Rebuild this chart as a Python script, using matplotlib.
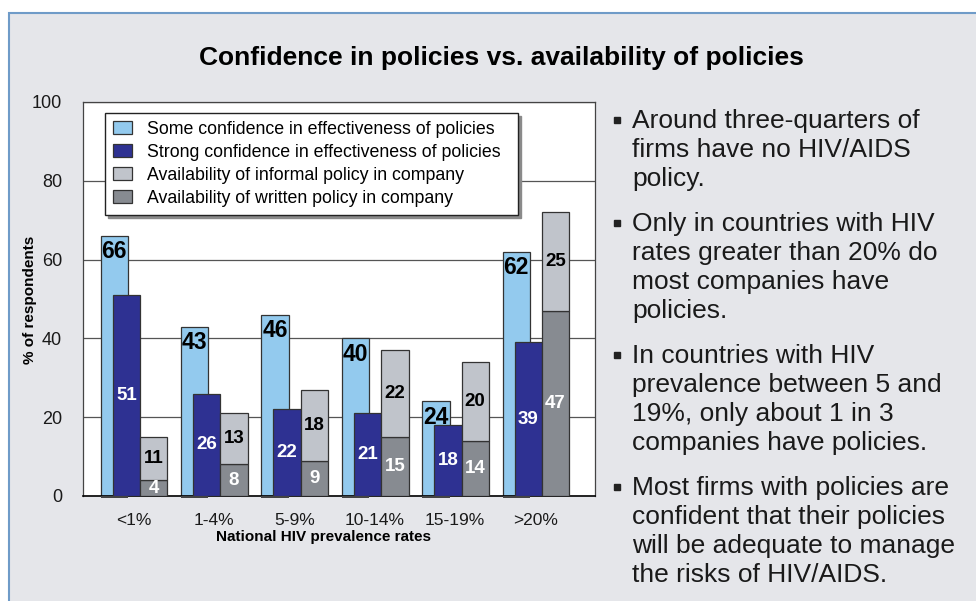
import numpy as np
import matplotlib.pyplot as plt
from matplotlib.patches import Rectangle
from matplotlib.lines import Line2D

plt.rcParams['font.family'] = ['Liberation Sans', 'DejaVu Sans']

# data (% of respondents)
categories = ['<1%', '1-4%', '5-9%', '10-14%', '15-19%', '>20%']
some_conf = [66, 43, 46, 40, 24, 62]
strong_conf = [51, 26, 22, 21, 18, 39]
written_policy = [4, 8, 9, 15, 14, 47]
informal_policy = [11, 13, 18, 22, 20, 25]

legend_labels = ['Some confidence in effectiveness of policies',
                 'Strong confidence in effectiveness of policies',
                 'Availability of informal policy in company',
                 'Availability of written policy in company']

bullets = [
    ['Around three-quarters of', 'firms have no HIV/AIDS', 'policy.'],
    ['Only in countries with HIV', 'rates greater than 20% do',
     'most companies have', 'policies.'],
    ['In countries with HIV', 'prevalence between 5 and',
     '19%, only about 1 in 3', 'companies have policies.'],
    ['Most firms with policies are', 'confident that their policies',
     'will be adequate to manage', 'the risks of HIV/AIDS.'],
]

c_some = '#93caee'
c_strong = '#2e3192'
c_inf = '#c0c4cb'
c_wr = '#878b91'
edge = '#333333'
W, H = 976, 601

fig = plt.figure(figsize=(W / 100, H / 100), dpi=100)
fig.patch.set_facecolor('white')
# grey panel with blue top/left border
fig.patches.append(Rectangle((8.5 / W, -0.1), 1.2, 1.1 - 12.5 / H,
                             transform=fig.transFigure, facecolor='#e5e6ea',
                             edgecolor='#6f9bc8', linewidth=1.5, zorder=-10))

ax = fig.add_axes([83 / W, 1 - 496 / H, 512 / W, 394 / H])
ax.set_zorder(1)
ax.set_facecolor('white')
x = np.arange(len(categories))

w_some, o_some = 0.34, -0.24
w_strong, o_strong = 0.34, -0.09
w_gray, o_gray = 0.34, 0.25

written_arr = np.array(written_policy)
h1 = ax.bar(x + o_some, some_conf, w_some, color=c_some, edgecolor=edge,
            linewidth=0.9, zorder=2)
h2 = ax.bar(x + o_strong, strong_conf, w_strong, color=c_strong,
            edgecolor=edge, linewidth=0.9, zorder=3)
h4 = ax.bar(x + o_gray, written_policy, w_gray, color=c_wr, edgecolor=edge,
            linewidth=0.9, zorder=3)
h3 = ax.bar(x + o_gray, informal_policy, w_gray, bottom=written_arr,
            color=c_inf, edgecolor=edge, linewidth=0.9, zorder=3)

# dark foot under the light blue bars
ax.bar(x + o_some, -0.6, w_some, color='#444444', linewidth=0, zorder=4,
       clip_on=False)

for i in range(len(categories)):
    ax.annotate(str(some_conf[i]), (x[i] + o_some, some_conf[i]),
                xytext=(0, -3), textcoords='offset points', ha='center',
                va='top', fontsize=16.5, weight='bold', color='black',
                zorder=6)
    ax.text(x[i] + o_strong, strong_conf[i] / 2, str(strong_conf[i]),
            ha='center', va='center', fontsize=13.5, weight='bold',
            color='white', zorder=6)
    ax.text(x[i] + o_gray, written_policy[i] / 2, str(written_policy[i]),
            ha='center', va='center', fontsize=13.5, weight='bold',
            color='white', zorder=6)
    ax.text(x[i] + o_gray, written_policy[i] + informal_policy[i] / 2,
            str(informal_policy[i]), ha='center', va='center',
            fontsize=13.5, weight='bold', color='black', zorder=6)

ax.set_ylim(0, 100)
ax.set_xlim(-0.63, 5.74)
ax.set_yticks([0, 20, 40, 60, 80, 100])
ax.set_xticks(x)
ax.set_xticklabels(categories)
ax.tick_params(length=0, labelsize=12.5, colors='#1a1a1a')
ax.tick_params(axis='y', pad=15, labelsize=13)
ax.tick_params(axis='x', pad=12)
ax.grid(axis='y', color='#555555', linewidth=0.9, zorder=1)
ax.set_axisbelow(True)
for s in ['left', 'top', 'right']:
    ax.spines[s].set_color('#444444')
    ax.spines[s].set_linewidth(0.9)
ax.spines['bottom'].set_color('black')
ax.spines['bottom'].set_linewidth(1.2)

ax.set_ylabel('% of respondents', fontsize=11, weight='bold')
ax.yaxis.set_label_coords(-0.09, 0.497)
ax.set_xlabel('National HIV prevalence rates', fontsize=11, weight='bold')
ax.xaxis.set_label_coords(0.469, -0.086)

leg = ax.legend([h1, h2, h3, h4], legend_labels, loc='upper left',
                bbox_to_anchor=(22 / 512, 0, 413 / 512, 1 - 11 / 394),
                mode='expand', borderaxespad=0, fontsize=12.8,
                frameon=True, fancybox=False, framealpha=1,
                edgecolor='#222222', shadow={'color': '#8a8a8a', 'alpha': 1},
                handlelength=1.05, handleheight=0.75, handletextpad=0.85,
                labelspacing=0.34, borderpad=0.45)
leg.get_frame().set_linewidth(1.0)
leg.set_zorder(10)

fig.text(501 / W, 1 - 58 / H,
         'Confidence in policies vs. availability of policies',
         ha='center', va='center', fontsize=19, weight='bold', color='black')

# bullet text on the right
y0 = 128
step = 29
gap = 45
for para in bullets:
    fig.add_artist(Line2D([617 / W], [1 - (y0 - 8) / H], marker='s',
                          markersize=4.5, color='#222222', linestyle='none',
                          transform=fig.transFigure))
    for j, line in enumerate(para):
        fig.text(632 / W, 1 - (y0 + j * step) / H, line, ha='left',
                 va='baseline', fontsize=19, color='#1a1a1a')
    y0 = y0 + (len(para) - 1) * step + gap

fig.savefig('out.png', dpi=100)
